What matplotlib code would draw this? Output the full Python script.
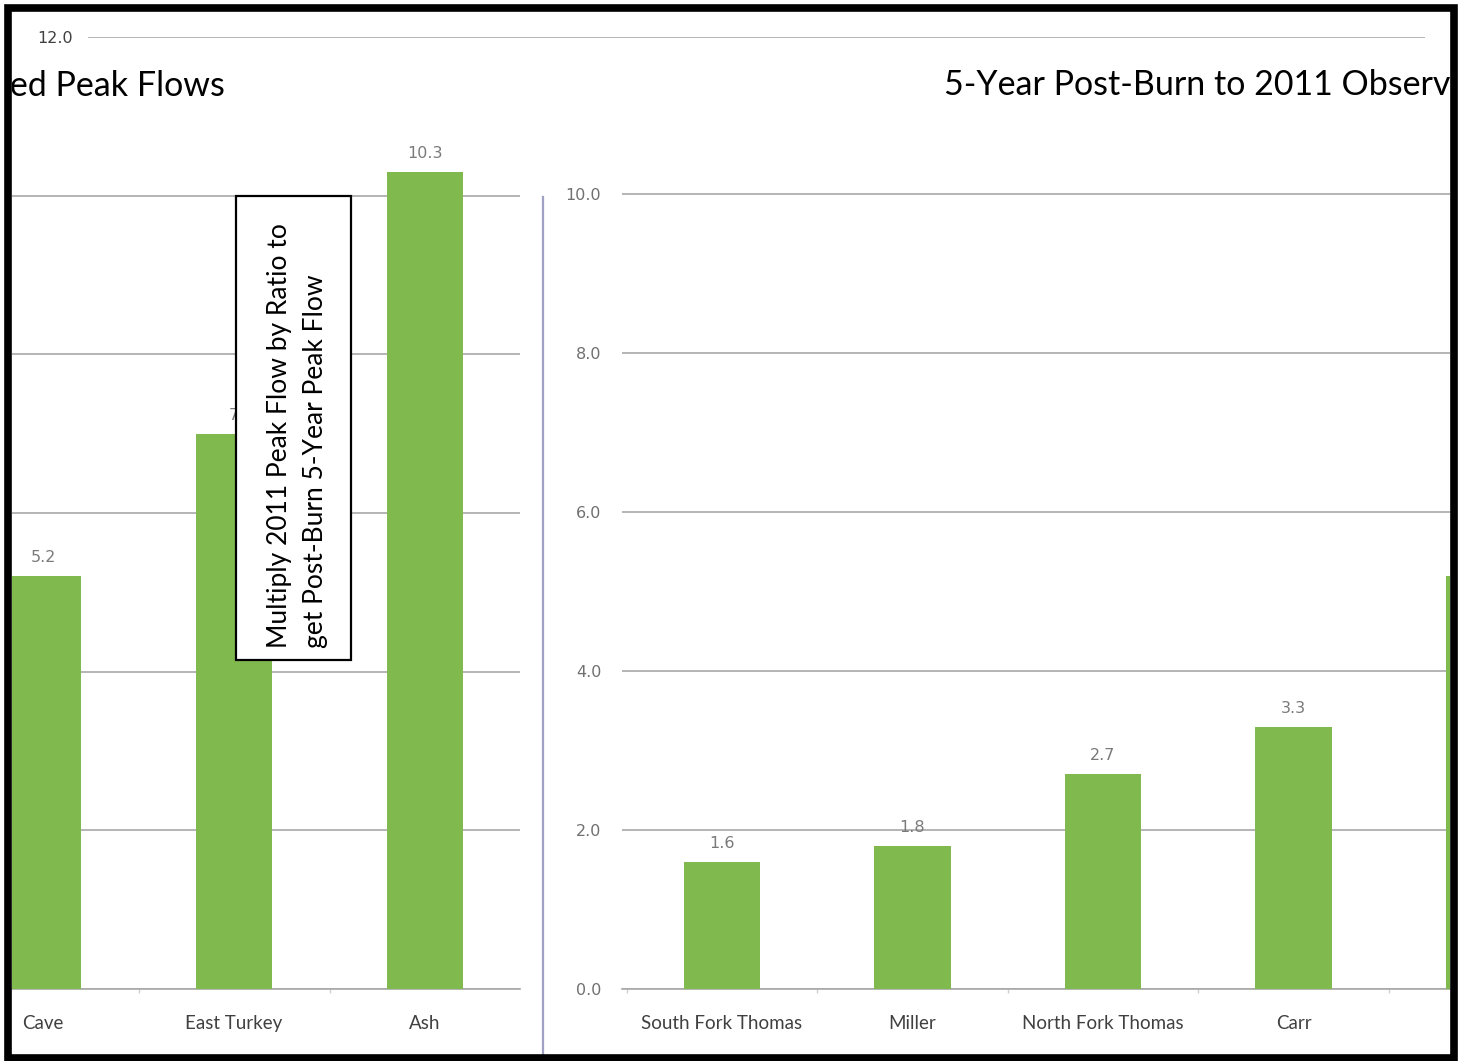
import matplotlib
matplotlib.use("Agg")
import matplotlib.pyplot as plt
from matplotlib.patches import Rectangle
from matplotlib.lines import Line2D

# ---- data ----
left_categories = ["Cave", "East Turkey", "Ash"]
left_values = [5.2, 7.0, 10.3]
right_categories = ["South Fork Thomas", "Miller", "North Fork Thomas", "Carr", ""]
right_values = [1.6, 1.8, 2.7, 3.3, 5.2]
y_ticks = [0, 2, 4, 6, 8, 10]
top_tick = [12]
left_title = "Observed Peak Flows"
right_title = "5-Year Post-Burn to 2011 Observed Peak Flows"
note = "Multiply 2011 Peak Flow by Ratio to\nget Post-Burn 5-Year Peak Flow"

W, H = 1465, 1061
GREEN = "#80ba4e"
GRID = "#a8a8a8"
FONT = ["Lato", "DejaVu Sans"]


def fx(px):
    return px / W


def fy(py):
    return 1 - py / H


fig = plt.figure(figsize=(W / 100, H / 100), dpi=100)
fig.patch.set_facecolor("white")

# helper axes carrying the 12.0 gridline across the top
axt = fig.add_axes([fx(88), fy(989), fx(1425) - fx(88), (989 - 37) / H])
axt.patch.set_visible(False)
axt.set_ylim(0, 12)
axt.set_yticks(top_tick)
axt.set_yticklabels([f"{v:.1f}" for v in top_tick], fontsize=11.5, color="#404040",
                    family="DejaVu Sans")
axt.tick_params(axis="y", length=0, pad=11)
axt.set_xticks([])
axt.grid(axis="y", color=GRID, lw=1.2)
for s in axt.spines.values():
    s.set_visible(False)
axt.set_zorder(0)


def style_bar_axes(ax, cats, vals, show_ylabels):
    ax.patch.set_visible(False)
    x = list(range(len(cats)))
    bars = ax.bar(x, vals, width=0.4, color=GREEN, zorder=3)
    ax.bar_label(bars, labels=[f"{v:g}" for v in vals], padding=8,
                 fontsize=11.5, color="#7a7a7a", family="DejaVu Sans", clip_on=True)
    ax.set_ylim(0, 12)
    ax.set_yticks(y_ticks)
    if show_ylabels:
        ax.set_yticklabels([f"{v:.1f}" for v in y_ticks], fontsize=11.5,
                           color="#707070", family="DejaVu Sans")
    else:
        ax.set_yticklabels([])
    ax.tick_params(axis="y", length=0, pad=15)
    ax.set_xticks(x)
    ax.set_xticklabels(cats, fontsize=13.5, color="#404040", family=FONT)
    ax.tick_params(axis="x", length=0, pad=19)
    ax.set_xticks([i + 0.5 for i in range(-1, len(cats))], minor=True)
    ax.tick_params(axis="x", which="minor", length=3, color="#d0d0d0", width=1)
    ax.grid(axis="y", color=GRID, lw=1.2, zorder=0)
    ax.set_axisbelow(True)
    for name, s in ax.spines.items():
        s.set_visible(name == "bottom")
    ax.spines["bottom"].set_color(GRID)
    ax.spines["bottom"].set_linewidth(1.2)


# left chart (cropped)
axl = fig.add_axes([fx(12), fy(989), fx(520) - fx(12), (989 - 37) / H])
style_bar_axes(axl, left_categories, left_values, False)
axl.set_xlim((12 - 43) / 191, (520 - 43) / 191)
axl.text(fx(225), fy(86), left_title, transform=fig.transFigure, ha="right",
         va="center", fontsize=24.5, family=FONT, color="black", clip_on=True)

# right chart (cropped)
axr = fig.add_axes([fx(622), fy(989), fx(1450) - fx(622), (989 - 35) / H])
style_bar_axes(axr, right_categories, right_values, True)
axr.set_xlim((622 - 722) / 190.5, (1450 - 722) / 190.5)
axr.text(fx(944), fy(85), right_title, transform=fig.transFigure, ha="left",
         va="center", fontsize=24.5, family=FONT, color="black", clip_on=True)

# separator line between the charts
fig.add_artist(Line2D([fx(543), fx(543)], [fy(197), fy(1055)],
                      transform=fig.transFigure, color="#a0a0c4", lw=1.6))

# note box
fig.add_artist(Rectangle((fx(236), fy(660)), fx(351) - fx(236), fy(196) - fy(660),
                         transform=fig.transFigure, facecolor="white",
                         edgecolor="black", lw=1.6, zorder=5))
fig.text(fx(298), fy(648), note, rotation=90, ha="center", va="bottom",
         multialignment="left", fontsize=19, family=FONT, color="black",
         linespacing=1.55, zorder=6)

# outer black frame
fig.add_artist(Rectangle((fx(7.5), fy(1058)), fx(1454) - fx(7.5), fy(7.5) - fy(1058),
                         transform=fig.transFigure, facecolor="none",
                         edgecolor="black", lw=5.5, zorder=10))

fig.savefig("out.png", dpi=100, facecolor="white")
